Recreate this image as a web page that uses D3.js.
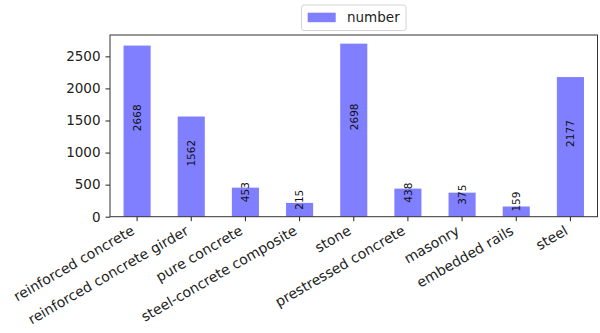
<!DOCTYPE html>
<html>
<head>
<meta charset="utf-8">
<script src="https://cdn.jsdelivr.net/npm/d3@7"></script>
<style>
  html, body { margin: 0; padding: 0; background: #fff; }
  svg { display: block; font-family: "DejaVu Sans", sans-serif; }
</style>
</head>
<body>
<svg id="chart" width="600" height="333"></svg>
<script>
// Bridge counts by construction material
const categories = [
  "reinforced concrete", "reinforced concrete girder", "pure concrete",
  "steel-concrete composite", "stone", "prestressed concrete",
  "masonry", "embedded rails", "steel"
];
const counts = [2668, 1562, 453, 215, 2698, 438, 375, 159, 2177];
const yTicks = [0, 500, 1000, 1500, 2000, 2500];
const seriesName = "number";

const svg = d3.select("#chart");
const plot = { left: 110, right: 597.5, top: 35, bottom: 216.7 };
const barColor = "#7f7fff";
const ink = "#222";

const x = d3.scaleBand()
  .domain(categories)
  .range([plot.left, plot.right])
  .paddingInner(0.5)
  .paddingOuter(0.25);

const y = d3.scaleLinear()
  .domain([0, d3.max(counts) * 1.05])
  .range([plot.bottom, plot.top]);

const data = categories.map((c, i) => ({ cat: c, val: counts[i] }));

// bars
svg.append("g").selectAll("rect")
  .data(data)
  .join("rect")
  .attr("x", d => x(d.cat))
  .attr("y", d => y(d.val))
  .attr("width", x.bandwidth())
  .attr("height", d => y(0) - y(d.val))
  .attr("fill", barColor);

// value labels, vertical, starting at half the bar height
svg.append("g").selectAll("text")
  .data(data)
  .join("text")
  .attr("transform", d => `translate(${x(d.cat) + x.bandwidth() / 2 + 3.8},${y(d.val / 2)}) rotate(-90)`)
  .attr("text-anchor", "start")
  .attr("font-size", 10.5)
  .attr("fill", "#111")
  .text(d => d.val);

// y axis
const yAxis = svg.append("g")
  .attr("transform", `translate(${plot.left},0)`)
  .call(d3.axisLeft(y).tickValues(yTicks).tickSize(4.5).tickPadding(5).tickFormat(d3.format("d")));
yAxis.select(".domain").remove();
yAxis.selectAll("line").attr("stroke", ink);
yAxis.selectAll("text").attr("font-size", 13.5).attr("fill", ink)
  .attr("font-family", "DejaVu Sans, sans-serif");

// x axis
const xAxis = svg.append("g")
  .attr("transform", `translate(0,${plot.bottom})`)
  .call(d3.axisBottom(x).tickSize(4.5).tickFormat(""));
xAxis.select(".domain").remove();
xAxis.selectAll("line").attr("stroke", ink);

// rotated category labels
svg.append("g").selectAll("text")
  .data(categories)
  .join("text")
  .attr("transform", c => `translate(${x(c) + x.bandwidth() / 2 - 1.6},${plot.bottom + 16.8}) rotate(-30)`)
  .attr("text-anchor", "end")
  .attr("font-size", 14)
  .attr("fill", ink)
  .text(c => c);

// frame
svg.append("rect")
  .attr("x", plot.left)
  .attr("y", plot.top)
  .attr("width", plot.right - plot.left)
  .attr("height", plot.bottom - plot.top)
  .attr("fill", "none")
  .attr("stroke", "#333")
  .attr("stroke-width", 1);

// legend
const legend = svg.append("g");
legend.append("rect")
  .attr("x", 301.5).attr("y", 5)
  .attr("width", 104.5).attr("height", 25.5)
  .attr("rx", 2.5)
  .attr("fill", "#fff")
  .attr("stroke", "#d4d4d4");
legend.append("rect")
  .attr("x", 307.7).attr("y", 12.7)
  .attr("width", 28).attr("height", 9.5)
  .attr("fill", barColor);
legend.append("text")
  .attr("x", 347).attr("y", 22)
  .attr("font-size", 13.5)
  .attr("fill", ink)
  .text(seriesName);
</script>
</body>
</html>
